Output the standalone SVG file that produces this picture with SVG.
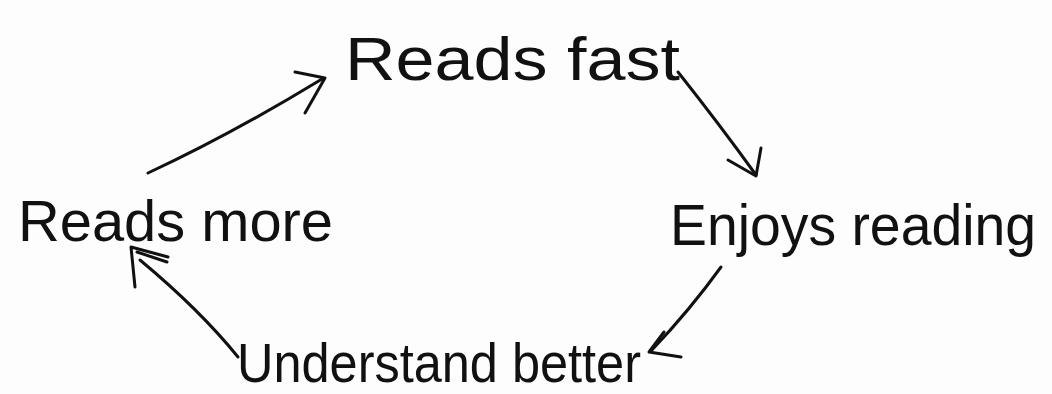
<svg xmlns="http://www.w3.org/2000/svg" width="1052" height="394" viewBox="0 0 1052 394">
<style>
.t{font-family:"Liberation Sans",Arial,sans-serif;fill:#111;}
.c{fill:none;stroke:#111;stroke-width:3;stroke-linecap:round;stroke-linejoin:round;}
</style>
<rect width="1052" height="394" fill="#fdfdfd"/>
<g id="n-reads-fast"><text class="t" x="345" y="80" font-size="62" textLength="335" lengthAdjust="spacingAndGlyphs">Reads fast</text></g>
<g id="n-enjoys-reading"><text class="t" x="670" y="245" font-size="58" textLength="366" lengthAdjust="spacingAndGlyphs">Enjoys reading</text></g>
<g id="n-understand-better"><text class="t" x="237" y="382" font-size="56" textLength="404" lengthAdjust="spacingAndGlyphs">Understand better</text></g>
<g id="n-reads-more"><text class="t" x="18" y="241" font-size="58" textLength="315" lengthAdjust="spacingAndGlyphs">Reads more</text></g>
<g id="connectors">
<path class="c" d="M148,173 Q230,135 322,79"/>
<path class="c" d="M295,72 L325,78 L305,113"/>
<path class="c" d="M678,72 Q720,125 756,175"/>
<path class="c" d="M728,160 L756,176 L761,148"/>
<path class="c" d="M721,267 Q690,310 651,351"/>
<path class="c" d="M664,332 L649,352 L681,357"/>
<path class="c" d="M238,357 Q200,310 140,260"/>
<path class="c" d="M135,287 L131,247 L168,257"/>
<path class="c" d="M137,252 L167,262"/>
</g>
</svg>
